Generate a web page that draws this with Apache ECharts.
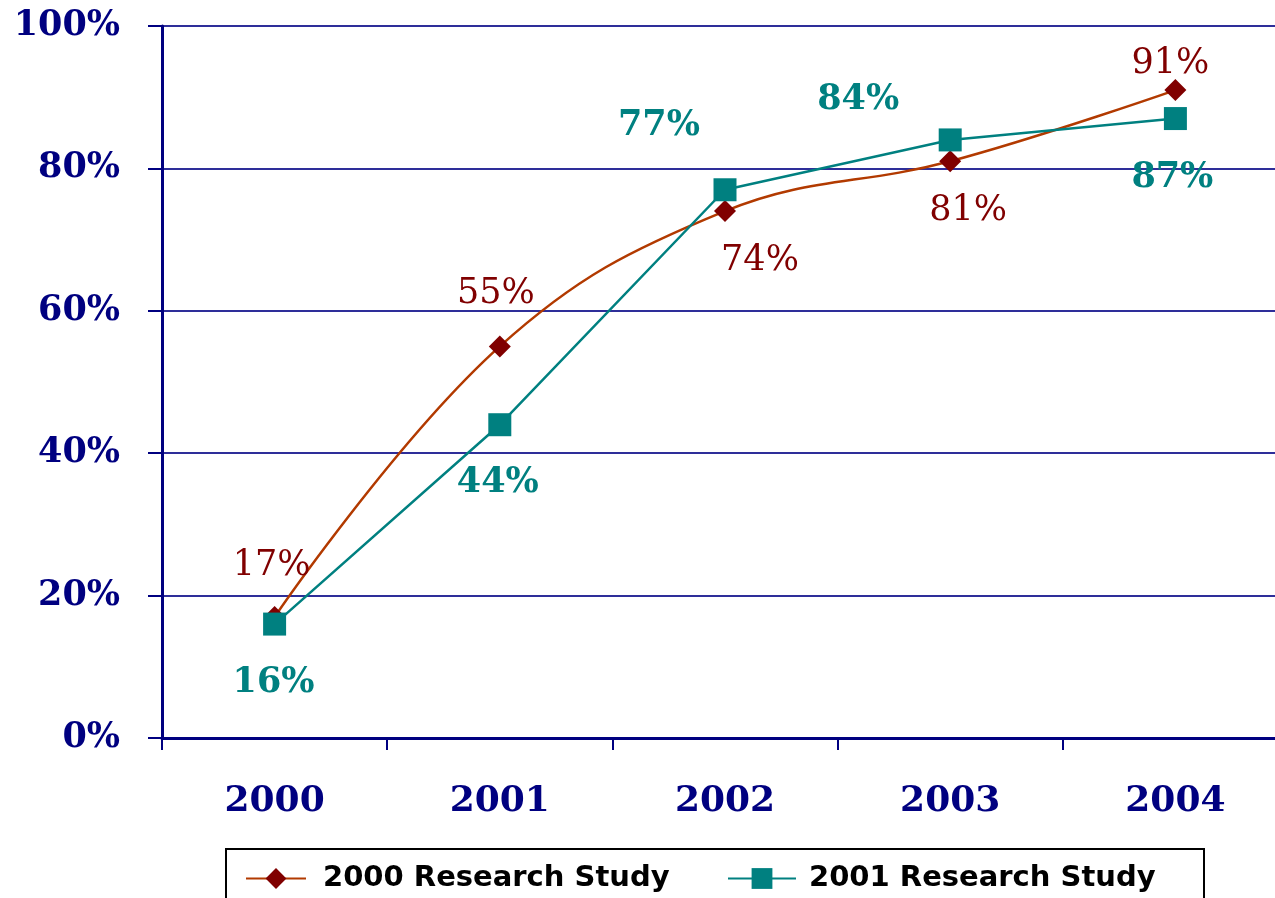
<!DOCTYPE html>
<html>
<head>
<meta charset="utf-8">
<script src="https://cdn.jsdelivr.net/npm/echarts@6/dist/echarts.min.js"></script>
<style>
  html, body { margin: 0; padding: 0; background: #ffffff; }
  #chart { width: 1275px; height: 898px; }
</style>
</head>
<body>
<div id="chart"></div>
<script>
// Survey years and the share reported by each study
const years = ['2000', '2001', '2002', '2003', '2004'];
const study2000 = [17, 55, 74, 81, 91];
const study2001 = [16, 44, 77, 84, 87];
const seriesNames = ['2000 Research Study', '2001 Research Study'];

// Where each value label sits relative to its marker (px)
const labelShift2000 = [[-3, -51], [-4, -52], [35, 50], [18, 50], [-5, -26]];
const labelShift2001 = [[-1, 59], [-2, 58], [-66, -64], [-92, -40], [-3, 59]];

const NAVY = '#000080';
const MAROON = '#800000';
const RUST = '#B23A00';
const TEAL = '#008080';
const SERIF = '"DejaVu Serif", "Liberation Serif", serif';
const SANS = '"DejaVu Sans", "Liberation Sans", sans-serif';

function withLabels(values, shifts) {
  return values.map((v, i) => ({ value: v, label: { offset: shifts[i] } }));
}

const chart = echarts.init(document.getElementById('chart'), null, { renderer: 'canvas' });

chart.setOption({
  backgroundColor: '#ffffff',
  animation: false,
  grid: {
    left: 162, top: 26, bottom: 160, right: -13,
    containLabel: false,
    outerBoundsMode: 'none'
  },
  xAxis: {
    type: 'category',
    data: years,
    boundaryGap: true,
    axisLine: { lineStyle: { color: NAVY, width: 3 } },
    axisTick: { show: true, length: 12, lineStyle: { color: NAVY, width: 2 } },
    axisLabel: {
      margin: 46,
      color: NAVY,
      fontFamily: SERIF,
      fontWeight: 'bold',
      fontSize: 36
    }
  },
  yAxis: {
    type: 'value',
    min: 0, max: 100, interval: 20,
    axisLine: { show: true, lineStyle: { color: NAVY, width: 3 } },
    axisTick: { show: true, length: 14, lineStyle: { color: NAVY, width: 2 } },
    splitLine: { show: true, lineStyle: { color: '#2E2E99', width: 2 } },
    axisLabel: {
      margin: 42,
      formatter: '{value}%',
      color: NAVY,
      fontFamily: SERIF,
      fontWeight: 'bold',
      fontSize: 35
    }
  },
  legend: [
    {
      data: [seriesNames[0]],
      left: 240, top: 859,
      itemWidth: 60, itemHeight: 26,
      textStyle: { fontFamily: SANS, fontWeight: 'bold', fontSize: 29, color: '#000000', padding: [0, 0, 0, 12] }
    },
    {
      data: [seriesNames[1]],
      left: 722, top: 859,
      itemWidth: 68, itemHeight: 26,
      textStyle: { fontFamily: SANS, fontWeight: 'bold', fontSize: 29, color: '#000000', padding: [0, 0, 0, 8] }
    }
  ],
  graphic: [
    {
      type: 'rect',
      shape: { x: 226, y: 849, width: 978, height: 70 },
      style: { fill: 'none', stroke: '#000000', lineWidth: 2 },
      silent: true
    }
  ],
  series: [
    {
      name: seriesNames[0],
      type: 'line',
      data: withLabels(study2000, labelShift2000),
      smooth: 0.4,
      symbol: 'diamond',
      symbolSize: 22,
      lineStyle: { color: RUST, width: 2.5 },
      itemStyle: { color: MAROON },
      label: {
        show: true,
        position: 'inside',
        formatter: '{c}%',
        color: MAROON,
        fontFamily: SERIF,
        fontSize: 35
      },
      z: 3
    },
    {
      name: seriesNames[1],
      type: 'line',
      data: withLabels(study2001, labelShift2001),
      symbol: 'rect',
      symbolSize: 23,
      lineStyle: { color: TEAL, width: 2.5 },
      itemStyle: { color: TEAL },
      label: {
        show: true,
        position: 'inside',
        formatter: '{c}%',
        color: TEAL,
        fontFamily: SERIF,
        fontWeight: 'bold',
        fontSize: 35
      },
      z: 4
    }
  ]
});
</script>
</body>
</html>
